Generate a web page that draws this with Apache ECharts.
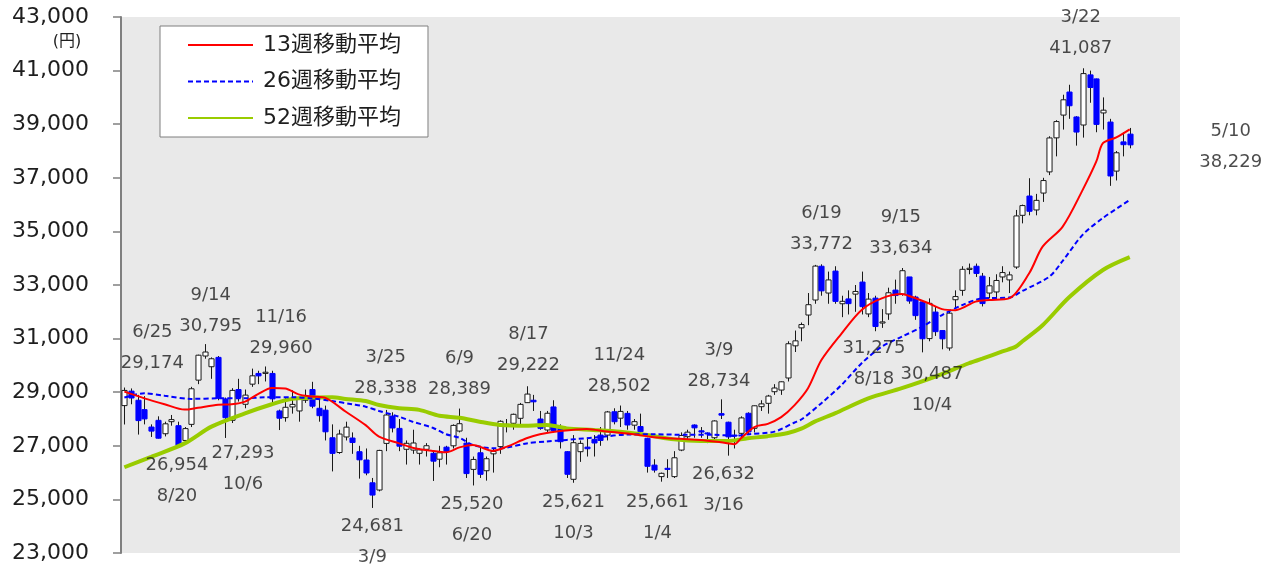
<!DOCTYPE html>
<html>
<head>
<meta charset="utf-8">
<style>
  html, body { margin: 0; padding: 0; background: #ffffff; }
  #chart { width: 1273px; height: 567px; }
</style>
<script src="https://cdn.jsdelivr.net/npm/echarts@6/dist/echarts.min.js"></script>
</head>
<body>
<div id="chart"></div>
<script>
// Weekly candles, Friday of each week from 2021/6/25 to 2024/5/10 (151 weeks)
const opens = [
  28500,29040,28700,28350,27700,27950,27450,27900,27750,27200,
  27800,29450,30350,29950,30300,28750,27950,29100,28550,29300,
  29700,29700,29700,28300,28050,28450,28300,28700,29100,28400,
  28330,27300,26750,27330,27290,26780,26470,25620,25350,27090,
  28110,27650,26870,26840,26720,26870,26720,26500,26950,27000,
  27550,27100,26120,26740,26070,26700,26970,27800,27840,28026,
  28610,28700,28000,27590,28450,27715,26780,25750,26780,26950,
  27240,27400,27400,28270,28030,28210,27770,27720,27280,26280,
  25850,26160,25850,26840,27340,27776,27560,27480,27300,28200,
  27880,27400,27465,28213,27653,28460,28585,29018,29080,29530,
  30730,31400,31880,32440,33700,32700,33520,32300,32480,32660,
  33110,31920,32510,31580,31920,32810,32660,33300,32550,32370,
  31000,31990,31300,30650,32450,32800,33580,33700,33330,32700,
  32740,33300,33190,33670,35600,36320,35800,36430,37220,38490,
  39340,40200,39270,38970,40840,40690,39420,39080,37250,38340,
  38630
];
const closes = [
  29066,28783,27940,28003,27548,27283,27820,27977,27013,27641,
  29128,30381,30500,30248,28771,28048,29068,28804,28892,29611,
  29609,29745,28751,28029,28437,28545,28782,28791,28478,28124,
  27522,26717,27439,27696,27122,26476,25985,25162,26827,28149,
  27665,26985,27093,27105,26847,27003,26427,26739,26781,27761,
  27824,25963,26491,25935,26517,26788,27914,27801,28175,28546,
  28930,28641,27650,28214,27567,27153,25937,27116,27090,26890,
  27105,27199,28263,27899,28283,27777,27901,27527,26235,26094,
  25973,26119,26553,27382,27509,27670,27513,27453,27927,28143,
  27333,27385,28041,27518,28493,28564,28856,29157,29388,30808,
  30916,31524,32265,33706,32781,33189,32388,32391,32304,32759,
  32192,32473,31450,31624,32710,32606,33533,32402,31857,30994,
  32315,31259,30991,31949,32568,33585,33625,33431,32307,32970,
  33169,33464,33377,35577,35963,35751,36158,36897,38487,39098,
  39910,39688,38707,40888,40369,38992,39523,37068,37934,38236,
  38229
];
const lows = [
  27795,28550,27419,27800,27330,27272,27350,27750,26954,27050,
  27700,29300,30250,29500,28700,27293,27850,28650,28400,29200,
  29300,29400,28600,27588,27900,28200,27900,28600,28400,27900,
  27200,26044,26700,27200,26700,25775,25900,24681,25300,26800,
  27500,26800,26300,26700,26300,26600,25688,26200,26300,26900,
  27500,25800,25520,25800,25700,26000,26700,27500,27600,27800,
  28600,28300,27600,27500,27500,26900,25800,25621,26400,26600,
  26600,27000,27200,27800,27700,27600,27600,27500,26000,26000,
  25661,25800,25800,26800,27200,27300,27300,27100,27250,28000,
  26632,26900,27300,27400,27500,28300,28200,28900,28900,29400,
  30500,30900,31500,32300,32600,32300,32300,31800,31900,32000,
  31900,31800,31275,31400,31700,32300,32600,32300,31700,30487,
  30900,31100,30600,30550,32100,32600,33400,33300,32200,32500,
  32500,33100,32700,33600,35300,35600,35600,36100,37100,37800,
  38800,39200,38200,38500,39800,38700,38800,36700,36900,37800,
  38100
];
const highs = [
  29174,29140,28900,28852,27800,28100,27900,28150,27900,27700,
  29200,30400,30795,30300,30350,28800,29150,29500,29100,29880,
  29800,29960,29800,28350,28800,29070,28800,29100,29388,28800,
  28500,27800,27600,27900,27500,27000,26900,25800,26850,28338,
  28250,28000,27200,27600,26900,27100,26800,27000,27000,27800,
  28389,27300,26600,27000,26600,26900,27950,28000,28200,28600,
  29222,28900,28300,28300,28700,27800,26800,27400,27200,27300,
  27400,27700,28300,28400,28502,28300,28000,28200,27300,26500,
  26000,26500,26800,27500,27600,27800,27700,27500,27950,28734,
  27900,27600,28100,28250,28500,28700,28900,29300,29400,30900,
  31300,31600,32700,33750,33772,33500,33700,32600,32800,33000,
  33500,32700,32600,32100,32900,33200,33634,33300,32600,32400,
  32500,32200,31300,32000,32800,33700,33800,33800,33450,33300,
  33400,33700,33500,35800,36000,36984,36400,37000,38550,39150,
  40100,40472,39300,41087,41000,40700,40000,39200,38000,38700,
  38860
];

// Moving averages as [week index, yen]
const ma13 = [
  [0,29020],[3,28770],[6,28550],[9,28350],[11,28420],[14,28530],[16,28550],[18,28650],
  [20,28940],[22,29160],[24,29140],[26,28920],[28,28840],[30,28790],[33,28280],[36,27770],
  [38,27340],[41,27090],[43,26930],[46,26810],[48,26760],[50,26940],[52,27030],[55,26810],
  [57,26960],[60,27280],[62,27430],[65,27550],[69,27630],[72,27530],[76,27430],[79,27320],
  [83,27260],[86,27220],[89,27130],[91,27060],[92,27280],[94,27700],[96,27820],[98,28070],
  [100,28520],[102,29150],[104,30200],[107,31190],[110,32070],[113,32500],[116,32660],[117,32600],
  [120,32320],[122,32100],[124,32060],[127,32380],[129,32440],[132,32500],[135,33440],[137,34430],
  [140,35180],[143,36560],[145,37600],[146,38290],[148,38510],[150,38810]
];
const ma26 = [
  [0,28800],[3,28960],[6,28870],[10,28750],[14,28770],[18,28770],[21,28810],[25,28810],
  [28,28770],[31,28670],[34,28550],[36,28460],[38,28300],[41,28085],[43,27900],[46,27675],
  [48,27430],[50,27300],[52,27030],[55,26910],[57,26930],[60,27090],[63,27160],[66,27220],
  [71,27330],[75,27420],[79,27430],[84,27410],[88,27410],[91,27370],[93,27430],[97,27530],
  [100,27870],[101,27980],[104,28590],[107,29270],[110,30080],[113,30700],[116,31070],[119,31440],
  [122,31880],[125,32250],[128,32500],[132,32530],[134,32780],[138,33310],[140,33900],[143,34880],
  [146,35500],[150,36170]
];
const ma52 = [
  [0,26200],[4,26590],[9,27090],[13,27715],[18,28210],[22,28550],[25,28750],[28,28800],
  [31,28810],[33,28750],[36,28670],[38,28520],[41,28400],[44,28340],[47,28120],[50,28050],
  [53,27900],[56,27780],[60,27750],[63,27780],[66,27650],[70,27590],[74,27520],[78,27400],
  [82,27240],[86,27180],[90,27180],[93,27280],[96,27360],[99,27480],[101,27640],[103,27900],
  [106,28210],[111,28770],[116,29150],[121,29580],[126,30080],[128,30250],[131,30520],[133,30700],
  [134,30900],[137,31500],[141,32550],[146,33560],[150,34040]
];

// Annotated highs / lows: week index, printed date
const highWeeks = [0, 12, 21, 39, 50, 60, 74, 89, 104, 116, 143];
const highDates = ['6/25','9/14','11/16','3/25','6/9','8/17','11/24','3/9','6/19','9/15','3/22'];
const lowWeeks  = [8, 15, 37, 52, 67, 80, 90, 112, 119];
const lowDates  = ['8/20','10/6','3/9','6/20','10/3','1/4','3/16','8/18','10/4'];
const lastWeek = 150;
const lastDate = '5/10';

// Label placement (pixel offsets from the marked price)
const highOffsets = [[28,-40],[6,-33],[16,-34],[0,-37],[0,-35],[2,-36],[-1,-35],[-2,-34],[0,-35],[-1,-35],[-2,-35]];
const lowOffsets  = [[-1,34],[18,31],[0,34],[-1,34],[0,35],[-3,36],[-4,34],[-1,33],[10,37]];
const lastOffset = [101, 2];

const yTicks = { min: 23000, max: 43000, step: 2000 };

// Week axis: 158 Fridays starting 2021/6/25 (last few are empty)
const weekCount = 158;
const weeks = [];
{
  const d = new Date(2021, 5, 25);
  for (let i = 0; i < weekCount; i++) {
    weeks.push((d.getFullYear()) + '/' + (d.getMonth() + 1) + '/' + d.getDate());
    d.setDate(d.getDate() + 7);
  }
}

const fmt = v => Number(v).toLocaleString('en-US');
const textFont = '"DejaVu Sans", "Noto Sans CJK JP", sans-serif';
const textColor = '#1e1e1e';

const candleData = opens.map((o, i) => [i, o, closes[i], lows[i], highs[i]]);

const labelItems = [];
highWeeks.forEach((w, k) => labelItems.push({
  value: [w, highs[w]],
  label: { offset: highOffsets[k], formatter: '{t|' + highDates[k] + '}\n{t|' + fmt(highs[w]) + '}' }
}));
lowWeeks.forEach((w, k) => labelItems.push({
  value: [w, lows[w]],
  label: { offset: lowOffsets[k], formatter: '{t|' + fmt(lows[w]) + '}\n{t|' + lowDates[k] + '}' }
}));
labelItems.push({
  value: [lastWeek, closes[lastWeek]],
  label: { offset: lastOffset, formatter: '{t|' + lastDate + '}\n{t|' + fmt(closes[lastWeek]) + '}' }
});

const chart = echarts.init(document.getElementById('chart'), null, { renderer: 'canvas' });

chart.setOption({
  animation: false,
  backgroundColor: '#ffffff',
  grid: {
    left: 121, right: 93, top: 17, bottom: 14,
    show: true, backgroundColor: '#e9e9e9', borderWidth: 0
  },
  legend: {
    orient: 'vertical',
    left: 160, top: 26,
    padding: [8, 27, 8, 27],
    itemWidth: 65, itemHeight: 22, itemGap: 14.5,
    backgroundColor: '#ffffff',
    borderColor: '#7f7f7f', borderWidth: 1,
    itemStyle: { opacity: 0 },
    textStyle: { fontFamily: textFont, fontSize: 22, color: textColor, padding: [0, 0, 0, 5] },
    data: ['13週移動平均', '26週移動平均', '52週移動平均']
  },
  xAxis: {
    type: 'category',
    data: weeks,
    boundaryGap: true,
    axisLine: { show: false },
    axisTick: { show: false },
    axisLabel: { show: false },
    splitLine: { show: false }
  },
  yAxis: {
    type: 'value',
    min: yTicks.min, max: yTicks.max, interval: yTicks.step,
    axisLine: { show: true, lineStyle: { color: '#808080', width: 2 } },
    axisTick: { show: true, inside: false, length: 8, lineStyle: { color: '#808080', width: 1.5 } },
    splitLine: { show: false },
    axisLabel: {
      margin: 32, fontSize: 22, fontFamily: textFont, color: textColor,
      formatter: v => fmt(v)
    }
  },
  graphic: [{
    type: 'text',
    x: 67, y: 42,
    style: {
      text: '(円)', fill: textColor, font: '16px ' + textFont,
      align: 'center', verticalAlign: 'middle'
    }
  }],
  series: [
    {
      name: 'candles',
      type: 'custom',
      z: 2,
      clip: false,
      encode: { x: 0, y: [1, 2, 3, 4] },
      data: candleData,
      renderItem: function (params, api) {
        const idx = api.value(0);
        const o = api.value(1), c = api.value(2), lo = api.value(3), hi = api.value(4);
        const po = api.coord([idx, o]);
        const pc = api.coord([idx, c]);
        const pl = api.coord([idx, lo]);
        const ph = api.coord([idx, hi]);
        const band = api.size([1, 0])[0];
        const w = band * 0.76;
        const x = Math.round(po[0]) + 0.5;
        const top = Math.min(po[1], pc[1]);
        const h = Math.max(Math.abs(po[1] - pc[1]), 1);
        const up = c >= o;
        return {
          type: 'group',
          children: [
            {
              type: 'line',
              shape: { x1: x, y1: ph[1], x2: x, y2: pl[1] },
              style: { stroke: '#1a1a1a', lineWidth: 1 }
            },
            {
              type: 'rect',
              shape: { x: x - w / 2, y: top, width: w, height: h },
              style: {
                fill: up ? '#ffffff' : '#0000ff',
                stroke: up ? '#1a1a1a' : '#0000ff',
                lineWidth: 1
              }
            }
          ]
        };
      }
    },
    {
      name: '52週移動平均',
      type: 'line',
      z: 3,
      data: ma52,
      symbol: 'none',
      smooth: 0.3,
      lineStyle: { color: '#99cc00', width: 4 },
      itemStyle: { color: '#99cc00' }
    },
    {
      name: '26週移動平均',
      type: 'line',
      z: 4,
      data: ma26,
      symbol: 'none',
      smooth: 0.3,
      lineStyle: { color: '#0000ff', width: 2, type: [5, 3] },
      itemStyle: { color: '#0000ff' }
    },
    {
      name: '13週移動平均',
      type: 'line',
      z: 5,
      data: ma13,
      symbol: 'none',
      smooth: 0.3,
      lineStyle: { color: '#ff0000', width: 2 },
      itemStyle: { color: '#ff0000' }
    },
    {
      name: 'annotations',
      type: 'scatter',
      z: 6,
      symbolSize: 1,
      itemStyle: { color: 'rgba(0,0,0,0)' },
      silent: true,
      clip: false,
      label: {
        show: true,
        position: 'inside',
        rich: {
          t: { fontFamily: textFont, fontSize: 18, color: textColor, lineHeight: 31, align: 'center' }
        }
      },
      data: labelItems
    }
  ]
});
</script>
</body>
</html>
